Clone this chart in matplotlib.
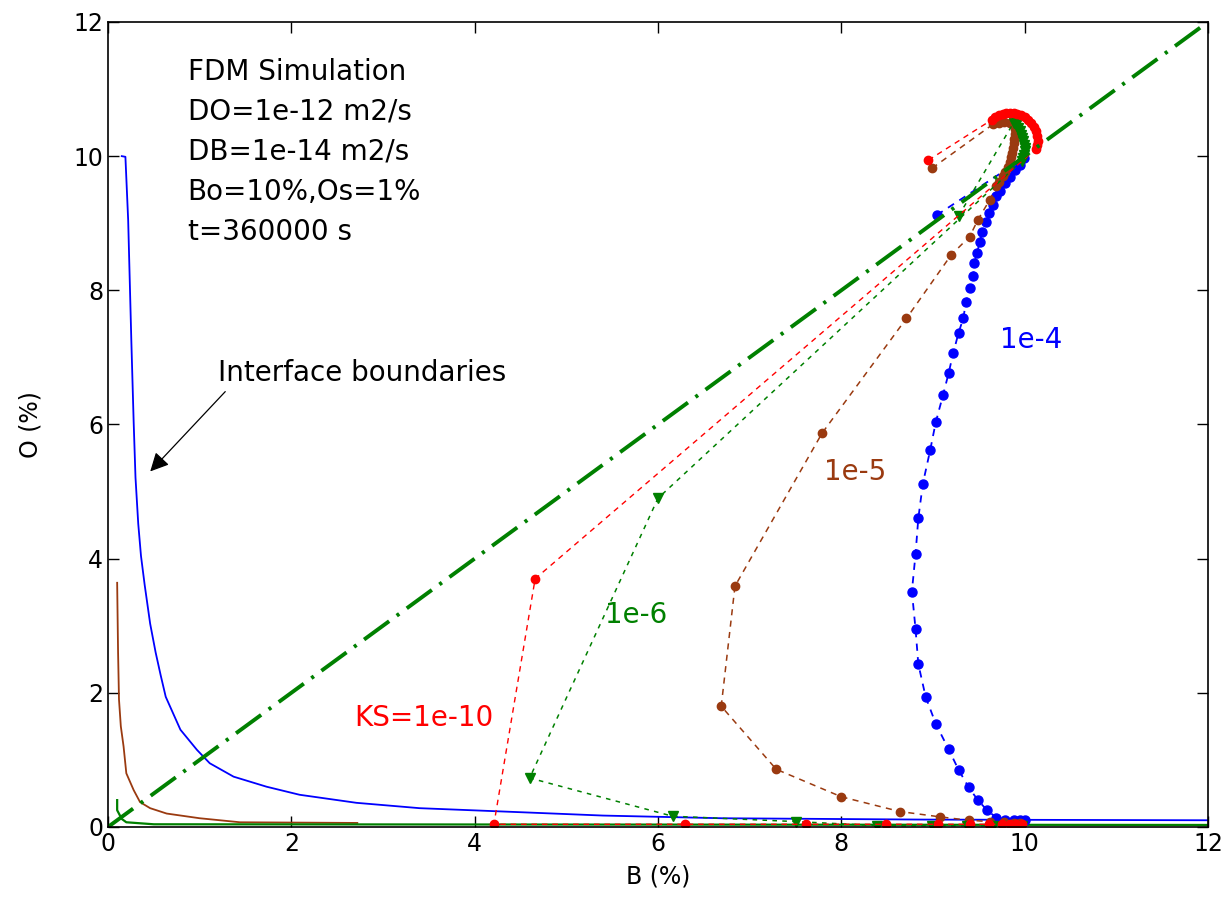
import matplotlib
matplotlib.use("Agg")
import matplotlib.pyplot as plt

# interface boundary curves (left side, solid)
bnd_blue_b = [0.15, 0.19, 0.22, 0.255, 0.28, 0.30, 0.33, 0.36, 0.40, 0.46, 0.52, 0.575, 0.63,
              0.79, 0.97, 1.11, 1.37, 1.73, 2.09, 2.71, 3.40, 4.50, 5.40, 6.70, 8.90, 12.0]
bnd_blue_o = [10.0, 9.99, 9.05, 7.23, 6.04, 5.21, 4.52, 4.04, 3.61, 3.03, 2.60, 2.26, 1.94,
              1.45, 1.15, 0.95, 0.75, 0.60, 0.48, 0.36, 0.28, 0.22, 0.17, 0.13, 0.11, 0.10]
bnd_brown_b = [0.10, 0.11, 0.12, 0.14, 0.17, 0.20, 0.28, 0.35, 0.46, 0.64, 1.00, 1.44, 2.72]
bnd_brown_o = [3.64, 2.60, 1.90, 1.50, 1.20, 0.80, 0.55, 0.37, 0.28, 0.20, 0.13, 0.07, 0.06]
bnd_green_b = [0.10, 0.10, 0.15, 0.20, 0.50, 12.0]
bnd_green_o = [0.40, 0.25, 0.12, 0.07, 0.04, 0.03]

# KS = 1e-4 (blue)
ks4_b = [9.04, 9.99, 9.95, 9.89, 9.84, 9.79, 9.73, 9.69, 9.66, 9.61, 9.58, 9.54, 9.51, 9.48,
         9.45, 9.44, 9.40, 9.36, 9.33, 9.28, 9.22, 9.17, 9.11, 9.03, 8.97, 8.89, 8.84, 8.81,
         8.77, 8.81, 8.84, 8.92, 9.03, 9.17, 9.28, 9.39, 9.49, 9.59, 9.69, 9.79, 9.88, 9.95, 10.0]
ks4_o = [9.12, 9.97, 9.87, 9.79, 9.69, 9.60, 9.48, 9.40, 9.27, 9.15, 9.02, 8.87, 8.72, 8.55,
         8.40, 8.21, 8.03, 7.82, 7.58, 7.37, 7.06, 6.76, 6.44, 6.03, 5.62, 5.12, 4.60, 4.07,
         3.51, 2.95, 2.43, 1.94, 1.54, 1.16, 0.85, 0.59, 0.40, 0.25, 0.14, 0.11, 0.11, 0.10, 0.10]

# KS = 1e-5 (brown)
ks5_b = [8.99, 9.66, 9.72, 9.78, 9.84, 9.88, 9.89, 9.89, 9.88, 9.88, 9.87, 9.86, 9.85, 9.84,
         9.82, 9.79, 9.76, 9.72, 9.69, 9.62, 9.49, 9.40, 9.20, 8.71, 7.79, 6.84, 6.69, 7.29,
         8.00, 8.64, 9.08, 9.39, 9.62, 9.78, 9.88, 9.95]
ks5_o = [9.82, 10.48, 10.50, 10.51, 10.50, 10.46, 10.40, 10.33, 10.26, 10.19, 10.12, 10.05, 9.98, 9.91,
         9.84, 9.77, 9.70, 9.62, 9.55, 9.35, 9.05, 8.80, 8.53, 7.58, 5.87, 3.59, 1.80, 0.86,
         0.45, 0.23, 0.15, 0.10, 0.08, 0.07, 0.06, 0.06]

# KS = 1e-6 (green)
ks6_b = [9.28, 9.88, 9.91, 9.93, 9.95, 9.96, 9.97, 9.98, 9.99, 10.00, 10.00, 9.99, 9.98, 9.97,
         6.00, 4.60, 6.16, 7.51, 8.39, 8.99, 9.37, 9.65, 9.97]
ks6_o = [9.11, 10.50, 10.46, 10.42, 10.37, 10.32, 10.27, 10.22, 10.17, 10.12, 10.07, 10.02, 9.97, 9.93,
         4.90, 0.73, 0.16, 0.08, 0.02, 0.02, 0.02, 0.02, 0.02]

# KS = 1e-10 (red)
ks10_b = [8.95, 9.64, 9.68, 9.72, 9.76, 9.80, 9.84, 9.88, 9.92, 9.96, 10.00, 10.04, 10.07, 10.10,
          10.12, 10.14, 10.15, 10.14, 10.12, 4.66, 4.21, 6.29, 7.62, 8.49, 9.06, 9.40, 9.61,
          9.75, 9.84, 9.91, 9.97]
ks10_o = [9.94, 10.54, 10.58, 10.61, 10.63, 10.64, 10.65, 10.64, 10.63, 10.61, 10.58, 10.54, 10.49, 10.43,
          10.37, 10.30, 10.23, 10.16, 10.10, 3.70, 0.04, 0.04, 0.04, 0.04, 0.04, 0.04, 0.04,
          0.04, 0.04, 0.04, 0.04]

info_lines = ["FDM Simulation", "DO=1e-12 m2/s", "DB=1e-14 m2/s", "Bo=10%,Os=1%", "t=360000 s"]
ticks = [0, 2, 4, 6, 8, 10, 12]

BLUE = "#0000FF"
BROWN = "#9A3A10"
GREEN = "#008000"
RED = "#FF0000"

fig = plt.figure(figsize=(12.23, 9.16), dpi=100)
ax = fig.add_axes([0.0883, 0.0972, 0.8994, 0.8788])

# boundary curves
ax.plot(bnd_blue_b, bnd_blue_o, color=BLUE, lw=1.3)
ax.plot(bnd_brown_b, bnd_brown_o, color=BROWN, lw=1.3)
ax.plot(bnd_green_b, bnd_green_o, color=GREEN, lw=1.6)

# simulated paths
ax.plot(ks4_b, ks4_o, color=BLUE, ls="--", dashes=(4, 3.5), lw=1.3,
        marker="o", ms=6.5, mec=BLUE, mfc=BLUE)
ax.plot(ks5_b, ks5_o, color=BROWN, ls="--", dashes=(4, 3.5), lw=1.1,
        marker="o", ms=6, mec=BROWN, mfc=BROWN)
ax.plot(ks6_b, ks6_o, color=GREEN, ls="--", dashes=(3, 3.5), lw=1.1,
        marker="v", ms=6.5, mec=GREEN, mfc=GREEN)
ax.plot(ks10_b, ks10_o, color=RED, ls="--", dashes=(4, 3.5), lw=1.0,
        marker="o", ms=6, mec=RED, mfc=RED)

# equal-composition diagonal
ax.plot([0, 12], [0, 12], color=GREEN, lw=2.8, dashes=(8, 2.4, 0.8, 2.4))

# series labels
ax.text(9.73, 7.26, "1e-4", color=BLUE, fontsize=20, va="center")
ax.text(7.81, 5.29, "1e-5", color=BROWN, fontsize=20, va="center")
ax.text(5.42, 3.16, "1e-6", color=GREEN, fontsize=20, va="center")
ax.text(2.69, 1.62, "KS=1e-10", color=RED, fontsize=20, va="center")

# info block
for i, line in enumerate(info_lines):
    ax.text(0.87, 11.26 - i * 0.596, line, fontsize=20, va="center")

# interface annotation
ax.text(1.20, 6.77, "Interface boundaries", fontsize=20, va="center")
ax.annotate("", xy=(0.44, 5.27), xytext=(1.30, 6.52),
            arrowprops=dict(arrowstyle="-|>", color="k", lw=0.9, mutation_scale=28))

ax.set_xlim(0, 12)
ax.set_ylim(0, 12)
ax.set_xticks(ticks)
ax.set_yticks(ticks)
ax.tick_params(direction="in", length=8, width=1, top=True, right=True, labelsize=17)
for s in ax.spines.values():
    s.set_linewidth(1.2)
ax.set_xlabel("B (%)", fontsize=17, labelpad=6)
ax.set_ylabel("O (%)", fontsize=17, labelpad=22)

fig.savefig("out.png", dpi=100)
